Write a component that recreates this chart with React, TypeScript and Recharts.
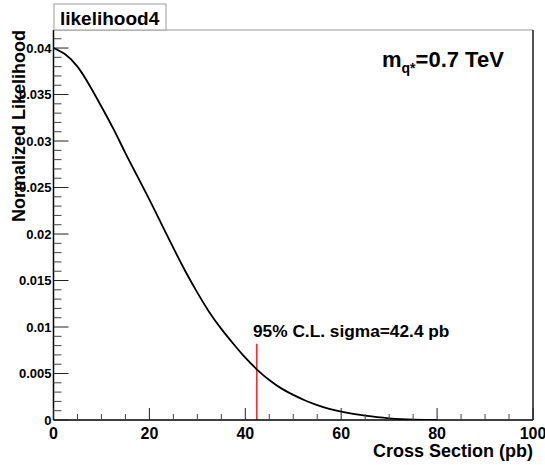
import React from 'react';
import { LineChart, Line, XAxis, YAxis, ReferenceLine } from 'recharts';

// cross section (pb) and normalized likelihood
const crossSection = [
    0, 2.5, 5, 7.5, 10, 12.5, 15, 17.5, 20, 22.5, 25, 27.5, 30, 32.5, 35, 37.5, 40,
    42.5, 45, 47.5, 50, 52.5, 55, 57.5, 60, 62.5, 65, 67.5, 70, 72.5, 75, 77.5, 80,
];
const likelihood = [
    0.04, 0.0393, 0.038, 0.036, 0.0337, 0.0313, 0.0287, 0.0262, 0.0237, 0.0211, 0.0185,
    0.016, 0.0137, 0.0116, 0.0098, 0.0082, 0.0067, 0.0054, 0.0043, 0.0034, 0.0027, 0.0021,
    0.0016, 0.0012, 0.0009, 0.00065, 0.00046, 0.0003, 0.00018, 0.0001, 0.00005, 0.00002,
    0.00001,
];

const xTicks = [0, 5, 10, 15, 20, 25, 30, 35, 40, 45, 50, 55, 60, 65, 70, 75, 80, 85, 90, 95, 100];
const xLabels = [0, 20, 40, 60, 80, 100];
const yLabels = ['0', '0.005', '0.01', '0.015', '0.02', '0.025', '0.03', '0.035', '0.04'];
const yTicks = Array.from({ length: 42 }, (_, i) => i / 1000);

const clLimit = 42.4;
const clLineTop = 0.0082;
const yMax = 0.04194;

const data = crossSection.map((x, i) => ({ x, y: likelihood[i] }));

const FONT = '"Liberation Sans", Arial, Helvetica, sans-serif';

const XTick = (props: any) => {
    const { x, y, payload } = props;
    const v = payload.value;
    const major = xLabels.includes(v);
    return (
        <g>
            <line x1={x} x2={x} y1={y} y2={y - (major ? 12 : 6)} stroke={major ? '#222' : '#444'} />
            {major && (
                <text x={x} y={y + 19} textAnchor="middle" fontSize={16} fontWeight="bold" fontFamily={FONT} fill="#000">
                    {v}
                </text>
            )}
        </g>
    );
};

const YTick = (props: any) => {
    const { x, y, payload } = props;
    const k = Math.round(payload.value * 1000);
    const major = k % 5 === 0;
    return (
        <g>
            <line x1={x} x2={x + (major ? 15 : 8)} y1={y} y2={y} stroke={major ? '#222' : '#444'} />
            {major && (
                <text x={x - 2} y={y} dy="0.35em" textAnchor="end" fontSize={13} fontWeight="bold" fontFamily={FONT} fill="#000">
                    {yLabels[k / 5]}
                </text>
            )}
        </g>
    );
};

export default function App() {
    return (
        <div style={{ position: 'relative', width: 545, height: 465, background: '#fff' }}>
            <style>{'body{margin:0}'}</style>
            <LineChart width={545} height={465} data={data} margin={{ top: 30, right: 12, bottom: 0, left: 0 }}>
                <XAxis
                    dataKey="x"
                    type="number"
                    domain={[0, 100]}
                    ticks={xTicks}
                    interval={0}
                    tick={<XTick />}
                    tickLine={false}
                    tickSize={0}
                    tickMargin={0}
                    height={45}
                    axisLine={{ stroke: '#000', strokeWidth: 1.5 }}
                />
                <YAxis
                    type="number"
                    domain={[0, yMax]}
                    allowDataOverflow
                    ticks={yTicks}
                    interval={0}
                    tick={<YTick />}
                    tickLine={false}
                    tickSize={0}
                    tickMargin={0}
                    width={53.5}
                    axisLine={{ stroke: '#000', strokeWidth: 1.5 }}
                />
                <ReferenceLine y={yMax} stroke="#999" strokeWidth={1} />
                <ReferenceLine x={100} stroke="#555" strokeWidth={2} />
                <ReferenceLine
                    segment={[{ x: clLimit, y: 0 }, { x: clLimit, y: clLineTop }]}
                    stroke="#ff0000"
                    strokeWidth={1.3}
                />
                <Line
                    dataKey="y"
                    type="natural"
                    stroke="#000"
                    strokeWidth={1.8}
                    dot={false}
                    isAnimationActive={false}
                />
            </LineChart>
            <svg
                width={545}
                height={465}
                style={{ position: 'absolute', left: 0, top: 0, pointerEvents: 'none' }}
                fontFamily={FONT}
                fontWeight="bold"
            >
                <rect x={54} y={4} width={112} height={26} fill="#fff" stroke="#999" />
                <text x={60} y={25} fontSize={19}>likelihood4</text>
                <text x={382} y={67} fontSize={22}>
                    m<tspan dy={6} fontSize={14}>q*</tspan>
                    <tspan dy={-6}>=0.7 TeV</tspan>
                </text>
                <text x={253} y={337} fontSize={17.3}>95% C.L. sigma=42.4 pb</text>
                <text x={533} y={457} fontSize={18} textAnchor="end">Cross Section (pb)</text>
                <text x={25} y={30} fontSize={18} textAnchor="end" transform="rotate(-90 25 30)">
                    Normalized Likelihood
                </text>
            </svg>
        </div>
    );
}
